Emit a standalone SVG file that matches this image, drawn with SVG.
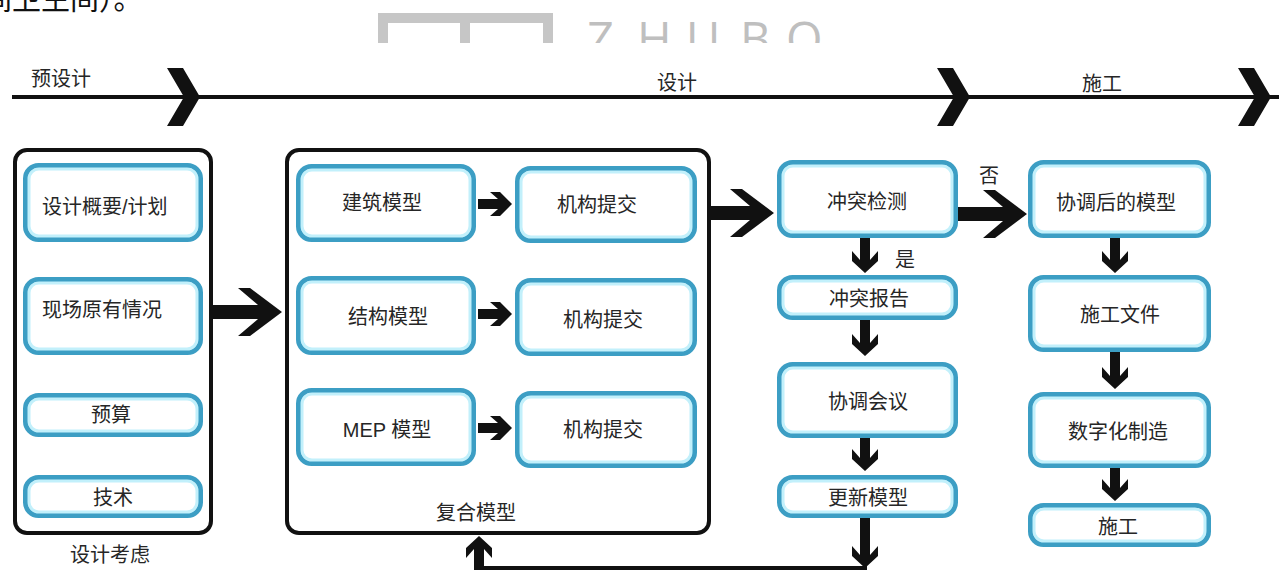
<svg xmlns="http://www.w3.org/2000/svg" xmlns:xlink="http://www.w3.org/1999/xlink" width="1279" height="572" viewBox="0 0 1279 572">
<style>
.t{font-family:"Liberation Sans","Noto Sans CJK SC",sans-serif;font-size:20px;fill:#262626;dominant-baseline:central}
.c{text-anchor:middle}
.frame{fill:#fff;stroke:#111;stroke-width:4}
.b{fill:#fff;stroke:#3c9ec4;stroke-width:5}
.g{fill:none;stroke:#c2f0fb;stroke-width:3}
.k{fill:#111;stroke:none}
.ln{stroke:#111;fill:none}
.wm{fill:#c6c6c6}
</style>
<defs>
<clipPath id="wmclip"><rect x="0" y="0" width="1279" height="43"/></clipPath>
<path id="sa" d="M-34,-5 L-14,-5 L-22,-12 L-12,-12 L0,0 L-12,12 L-22,12 L-14,5 L-34,5 Z"/>
<path id="chev" d="M0,-29 L16,-29 L33,0 L16,29 L0,29 L17,0 Z"/>
</defs>
<rect width="1279" height="572" fill="#fff"/>

<!-- page fragments / watermark -->
<g id="fragment">
<text x="-17" y="10" font-family="Liberation Serif, Noto Sans CJK SC, serif" font-size="29" fill="#111">间卫生间）。</text>
</g>
<g id="watermark" clip-path="url(#wmclip)">
<rect class="wm" x="378" y="13" width="175" height="10"/>
<rect class="wm" x="378" y="13" width="10" height="40"/>
<rect class="wm" x="460" y="13" width="10" height="40"/>
<rect class="wm" x="543" y="13" width="10" height="40"/>
<text x="587 637 686 740 786" y="56" font-family="Open Sans, sans-serif" font-weight="400" font-size="47" fill="#bfbfbf">ZHUBO</text>
</g>

<!-- timeline -->
<g id="timeline">
<line class="ln" x1="12" y1="97" x2="1279" y2="97" stroke-width="4"/>
<use href="#chev" class="k" transform="translate(167,97)"/>
<use href="#chev" class="k" transform="translate(937,97)"/>
<use href="#chev" class="k" transform="translate(1238,97)"/>
<text class="t c" x="61" y="79" font-size="19">预设计</text>
<text class="t c" x="677" y="83" font-size="19">设计</text>
<text class="t c" x="1102" y="84" font-size="19">施工</text>
</g>

<!-- group: design considerations -->
<g id="design-considerations">
<rect class="frame" x="15" y="150" width="196" height="383" rx="12"/>
<text class="t c" x="110" y="555">设计考虑</text>
</g>
<g id="n-brief">
<rect class="b" x="25.5" y="165.5" width="175" height="74" rx="13"/><rect class="g" x="29" y="169" width="168" height="67" rx="10"/>
<text class="t" x="42" y="207">设计概要/计划</text>
</g>
<g id="n-site">
<rect class="b" x="25.5" y="279.5" width="175" height="73" rx="13"/><rect class="g" x="29" y="283" width="168" height="66" rx="10"/>
<text class="t" x="42" y="310">现场原有情况</text>
</g>
<g id="n-budget">
<rect class="b" x="25.5" y="395.5" width="175" height="39" rx="13"/><rect class="g" x="29" y="399" width="168" height="32" rx="10"/>
<text class="t c" x="111" y="415">预算</text>
</g>
<g id="n-tech">
<rect class="b" x="25.5" y="477.5" width="175" height="38" rx="13"/><rect class="g" x="29" y="481" width="168" height="31" rx="10"/>
<text class="t c" x="113" y="498">技术</text>
</g>

<!-- group: composite model -->
<g id="composite-model">
<rect class="frame" x="287" y="150" width="422" height="383" rx="12"/>
<text class="t c" x="476" y="513">复合模型</text>
</g>
<g id="n-arch">
<rect class="b" x="298.5" y="166.5" width="175" height="73" rx="13"/><rect class="g" x="302" y="170" width="168" height="66" rx="10"/>
<text class="t c" x="382" y="203">建筑模型</text>
</g>
<g id="n-sub1">
<rect class="b" x="517.5" y="168.5" width="177" height="72" rx="13"/><rect class="g" x="521" y="172" width="170" height="65" rx="10"/>
<text class="t c" x="597" y="205">机构提交</text>
</g>
<g id="n-struct">
<rect class="b" x="298.5" y="278.5" width="175" height="74" rx="13"/><rect class="g" x="302" y="282" width="168" height="67" rx="10"/>
<text class="t c" x="388" y="317">结构模型</text>
</g>
<g id="n-sub2">
<rect class="b" x="517.5" y="280.5" width="177" height="73" rx="13"/><rect class="g" x="521" y="284" width="170" height="66" rx="10"/>
<text class="t c" x="603" y="320">机构提交</text>
</g>
<g id="n-mep">
<rect class="b" x="298.5" y="390.5" width="175" height="73" rx="13"/><rect class="g" x="302" y="394" width="168" height="66" rx="10"/>
<text class="t c" x="387" y="430">MEP 模型</text>
</g>
<g id="n-sub3">
<rect class="b" x="517.5" y="393.5" width="177" height="72" rx="13"/><rect class="g" x="521" y="397" width="170" height="65" rx="10"/>
<text class="t c" x="603" y="430">机构提交</text>
</g>

<!-- coordination column -->
<g id="n-clash">
<rect class="b" x="779.5" y="162.5" width="176" height="73" rx="13"/><rect class="g" x="783" y="166" width="169" height="66" rx="10"/>
<text class="t c" x="867" y="202">冲突检测</text>
</g>
<g id="n-report">
<rect class="b" x="779.5" y="277.5" width="176" height="40" rx="13"/><rect class="g" x="783" y="281" width="169" height="33" rx="10"/>
<text class="t c" x="869" y="299">冲突报告</text>
</g>
<g id="n-meeting">
<rect class="b" x="779.5" y="364.5" width="176" height="71" rx="13"/><rect class="g" x="783" y="368" width="169" height="64" rx="10"/>
<text class="t c" x="868" y="402">协调会议</text>
</g>
<g id="n-update">
<rect class="b" x="779.5" y="477.5" width="176" height="38" rx="13"/><rect class="g" x="783" y="481" width="169" height="31" rx="10"/>
<text class="t c" x="868" y="498">更新模型</text>
</g>

<!-- construction column -->
<g id="n-coordinated">
<rect class="b" x="1030.5" y="162.5" width="178" height="73" rx="13"/><rect class="g" x="1034" y="166" width="171" height="66" rx="10"/>
<text class="t c" x="1116" y="203">协调后的模型</text>
</g>
<g id="n-docs">
<rect class="b" x="1030.5" y="277.5" width="178" height="72" rx="13"/><rect class="g" x="1034" y="281" width="171" height="65" rx="10"/>
<text class="t c" x="1120" y="315">施工文件</text>
</g>
<g id="n-fab">
<rect class="b" x="1030.5" y="394.5" width="178" height="71" rx="13"/><rect class="g" x="1034" y="398" width="171" height="64" rx="10"/>
<text class="t c" x="1118" y="432">数字化制造</text>
</g>
<g id="n-build">
<rect class="b" x="1030.5" y="505.5" width="178" height="39" rx="13"/><rect class="g" x="1034" y="509" width="171" height="32" rx="10"/>
<text class="t c" x="1118" y="527">施工</text>
</g>

<!-- connectors -->
<g id="connectors">
<path class="k" d="M211,305 L258,305 L238,288 L250,288 L282,312 L250,336 L238,336 L258,319 L211,319 Z"/>
<path class="k" d="M711,206 L750,206 L730,189 L742,189 L774,213 L742,237 L730,237 L750,220 L711,220 Z"/>
<path class="k" d="M958,207 L1003,207 L983,190 L995,190 L1027,214 L995,238 L983,238 L1003,221 L958,221 Z"/>
<use href="#sa" class="k" transform="translate(512,204)"/>
<use href="#sa" class="k" transform="translate(512,314)"/>
<use href="#sa" class="k" transform="translate(512,428)"/>
<path class="k" d="M860,238 L870,238 L870,260 L878,251 L878,261 L865,273 L852,261 L852,251 L860,260 Z"/>
<path class="k" d="M860,320 L870,320 L870,343 L878,334 L878,344 L865,356 L852,344 L852,334 L860,343 Z"/>
<path class="k" d="M860,438 L870,438 L870,458 L878,449 L878,459 L865,471 L852,459 L852,449 L860,458 Z"/>
<path class="k" d="M860,518 L870,518 L870,555 L878,546 L878,556 L865,568 L852,556 L852,546 L860,555 Z"/>
<path class="k" d="M1110,238 L1120,238 L1120,260 L1128,251 L1128,261 L1115,273 L1102,261 L1102,251 L1110,260 Z"/>
<path class="k" d="M1110,352 L1120,352 L1120,376 L1128,367 L1128,377 L1115,389 L1102,377 L1102,367 L1110,376 Z"/>
<path class="k" d="M1110,468 L1120,468 L1120,488 L1128,479 L1128,489 L1115,501 L1102,489 L1102,479 L1110,488 Z"/>
<line class="ln" x1="477" y1="568" x2="867" y2="568" stroke-width="4"/>
<path class="k" d="M474,570 L484,570 L484,549 L492,558 L492,548 L479,536 L466,548 L466,558 L474,549 Z"/>
<text class="t c" x="989" y="176" font-size="19">否</text>
<text class="t c" x="905" y="260" font-size="19">是</text>
</g>
</svg>
